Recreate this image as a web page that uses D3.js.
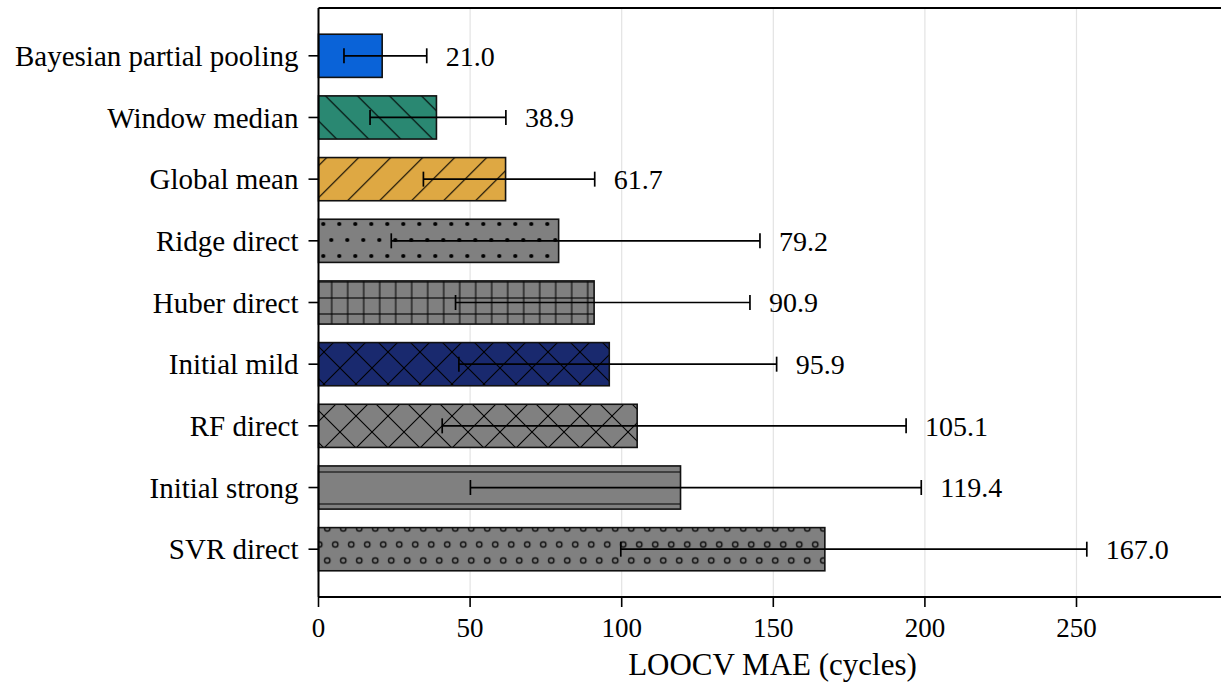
<!DOCTYPE html>
<html>
<head>
<meta charset="utf-8">
<script src="https://cdn.jsdelivr.net/npm/d3@7"></script>
<style>
  html, body { margin: 0; padding: 0; background: #fff; }
  svg { display: block; }
  text { font-family: "Liberation Serif", "Times New Roman", serif; fill: #000; }
</style>
</head>
<body>
<svg id="chart" width="1221" height="685"></svg>
<script>
// LOOCV mean absolute error per method (cycles), top to bottom
const methods = ["Bayesian partial pooling", "Window median", "Global mean", "Ridge direct",
                 "Huber direct", "Initial mild", "RF direct", "Initial strong", "SVR direct"];
const mae     = [21.0, 38.9, 61.7, 79.2, 90.9, 95.9, 105.1, 119.4, 167.0];
const errLow  = [8.4, 17.0, 34.6, 24.0, 45.2, 46.3, 40.8, 50.1, 99.7];
const errHigh = [35.7, 61.8, 91.1, 145.6, 142.3, 151.1, 193.8, 198.8, 253.4];
const fills   = ["#0a63d8", "#2a8872", "#dea843", "#808080", "#808080",
                 "#19296e", "#808080", "#808080", "#808080"];
const hatches = ["none", "back", "fwd", "dots", "grid", "cross", "cross", "hline", "rings"];
const xTicks  = [0, 50, 100, 150, 200, 250];

const rows = methods.map((name, i) => ({
  name, i, value: mae[i], lo: errLow[i], hi: errHigh[i], fill: fills[i], hatch: hatches[i]
}));

const svg = d3.select("#chart");
const plotLeft = 318.5, plotTop = 8, plotBottom = 597;
const x = d3.scaleLinear().domain([0, 298]).range([plotLeft, plotLeft + 298 * 3.032]);
const y = d3.scaleLinear().domain([-0.775, methods.length - 1 + 0.775]).range([plotTop, plotBottom]);
const barH = y(0.35) - y(-0.35);

// hatch patterns, all tiled from a shared origin
const defs = svg.append("defs");
function pattern(id, w, h, dx, dy, draw) {
  const p = defs.append("pattern").attr("id", id)
    .attr("patternUnits", "userSpaceOnUse")
    .attr("width", w).attr("height", h)
    .attr("patternTransform", `translate(${dx},${dy})`);
  draw(p);
}
function line(p, x1, y1, x2, y2) {
  p.append("line").attr("x1", x1).attr("y1", y1).attr("x2", x2).attr("y2", y2)
    .attr("stroke", "#000").attr("stroke-width", 1.1);
}
pattern("fwd", 32, 32, 4.3, 0, p => {
  line(p, -2, 34, 34, -2);
  line(p, -2, 2, 2, -2);
  line(p, 30, 34, 34, 30);
});
pattern("back", 32, 32, 5.6, 0, p => {
  line(p, -2, -2, 34, 34);
  line(p, 30, -2, 34, 2);
  line(p, -2, 30, 2, 34);
});
pattern("cross", 32, 32, 4, 0, p => {
  line(p, -2, 34, 34, -2);
  line(p, -2, 2, 2, -2);
  line(p, 30, 34, 34, 30);
  line(p, -2, -2, 34, 34);
  line(p, 30, -2, 34, 2);
  line(p, -2, 30, 2, 34);
});
pattern("hline", 32, 32, 0, 24, p => { line(p, -1, 0, 33, 0); line(p, -1, 32, 33, 32); });
pattern("grid", 16, 16, 11.7, 10, p => {
  line(p, 0, -1, 0, 17); line(p, 16, -1, 16, 17);
  line(p, -1, 0, 17, 0); line(p, -1, 16, 17, 16);
});
pattern("dots", 16, 32, 3.3, 0, p => {
  [[0, 0], [16, 0], [0, 32], [16, 32], [8, 16]].forEach(([cx, cy]) =>
    p.append("circle").attr("cx", cx).attr("cy", cy).attr("r", 2.1).attr("fill", "#000"));
});
pattern("rings", 16, 32, 7.3, 16.5, p => {
  [[0, 0], [16, 0], [0, 32], [16, 32], [8, 16]].forEach(([cx, cy]) =>
    p.append("circle").attr("cx", cx).attr("cy", cy).attr("r", 2.7)
      .attr("fill", "none").attr("stroke", "#000").attr("stroke-width", 1.2));
});

// vertical grid lines
svg.append("g").selectAll("line").data(xTicks).join("line")
  .attr("x1", d => x(d)).attr("x2", d => x(d))
  .attr("y1", plotTop).attr("y2", plotBottom)
  .attr("stroke", "#e3e3e3").attr("stroke-width", 1.2);

// bars: solid fill, then hatch overlay, then outline
const bars = svg.append("g").selectAll("g").data(rows).join("g");
const barRect = sel => sel
  .attr("x", x(0)).attr("y", d => y(d.i) - barH / 2)
  .attr("width", d => x(d.value) - x(0)).attr("height", barH);
bars.append("rect").call(barRect).attr("fill", d => d.fill);
bars.filter(d => d.hatch !== "none").append("rect").call(barRect)
  .attr("fill", d => `url(#${d.hatch})`);
bars.append("rect").call(barRect)
  .attr("fill", "none").attr("stroke", "#111").attr("stroke-width", 1.6);

// error bars
const eb = svg.append("g").attr("stroke", "#000").attr("stroke-width", 1.7);
rows.forEach(d => {
  eb.append("line").attr("x1", x(d.lo)).attr("x2", x(d.hi))
    .attr("y1", y(d.i)).attr("y2", y(d.i));
  [d.lo, d.hi].forEach(v =>
    eb.append("line").attr("x1", x(v)).attr("x2", x(v))
      .attr("y1", y(d.i) - 7.5).attr("y2", y(d.i) + 7.5));
});

// value labels
svg.append("g").selectAll("text").data(rows).join("text")
  .attr("x", d => x(d.hi) + 19).attr("y", d => y(d.i))
  .attr("dy", "0.35em").attr("font-size", 28)
  .text(d => d.value.toFixed(1));

// axes frame (right side runs past the canvas edge)
const frame = svg.append("g").attr("stroke", "#000").attr("stroke-width", 2);
frame.append("line").attr("x1", plotLeft).attr("x2", plotLeft).attr("y1", plotTop).attr("y2", plotBottom);
frame.append("line").attr("x1", plotLeft).attr("x2", 1221).attr("y1", plotTop).attr("y2", plotTop);
frame.append("line").attr("x1", plotLeft).attr("x2", 1221).attr("y1", plotBottom).attr("y2", plotBottom);

// y axis ticks and labels
const yAxis = svg.append("g");
rows.forEach(d => {
  yAxis.append("line").attr("x1", plotLeft - 10).attr("x2", plotLeft).attr("y1", y(d.i)).attr("y2", y(d.i))
    .attr("stroke", "#000").attr("stroke-width", 1.6);
  yAxis.append("text").attr("x", plotLeft - 20).attr("y", y(d.i)).attr("dy", "0.35em")
    .attr("text-anchor", "end").attr("font-size", 29).text(d.name);
});

// x axis ticks and labels
const xAxis = svg.append("g");
xTicks.forEach(t => {
  xAxis.append("line").attr("x1", x(t)).attr("x2", x(t)).attr("y1", plotBottom).attr("y2", plotBottom + 10)
    .attr("stroke", "#000").attr("stroke-width", 1.6);
  xAxis.append("text").attr("x", x(t)).attr("y", 637).attr("text-anchor", "middle")
    .attr("font-size", 27).text(t);
});
svg.append("text").attr("x", (623 + 922) / 2).attr("y", 675).attr("text-anchor", "middle")
  .attr("font-size", 31).text("LOOCV MAE (cycles)");
</script>
</body>
</html>
